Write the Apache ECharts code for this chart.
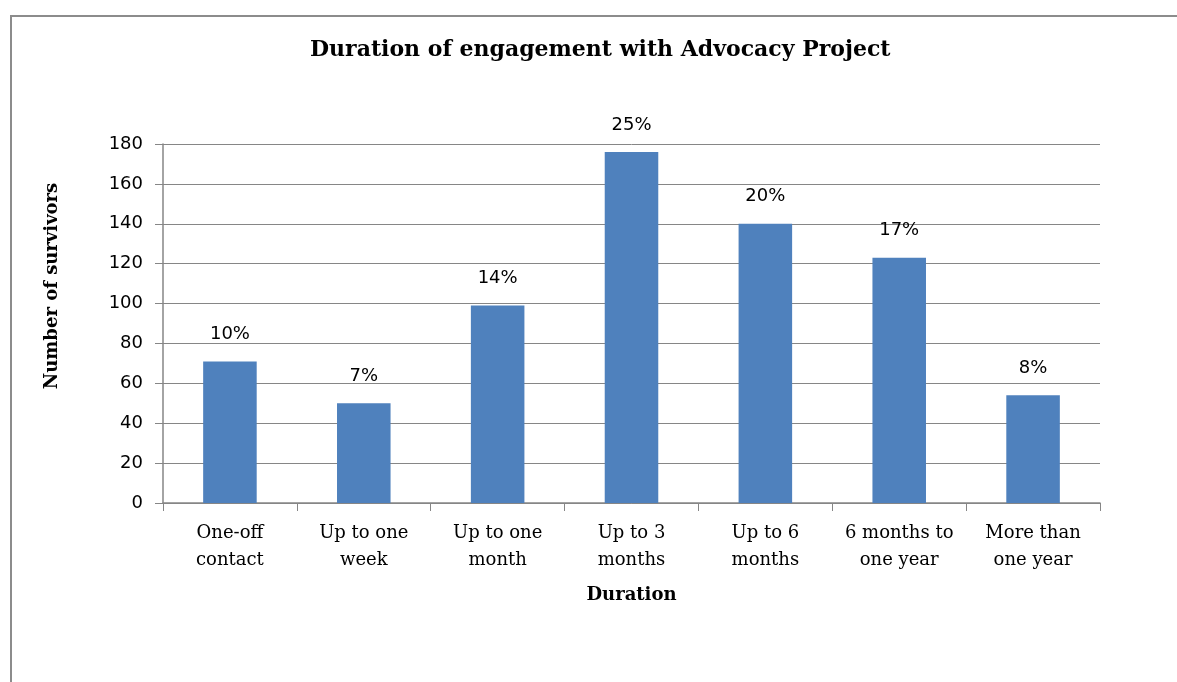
<!DOCTYPE html>
<html lang="en">
<head>
<meta charset="UTF-8">
<title>Duration of engagement</title>
<script src="https://cdn.jsdelivr.net/npm/echarts@6.0.0/dist/echarts.min.js"></script>
<style>
  body { margin: 0; padding: 0; background: #fff; }
  #chart { width: 1177px; height: 682px; }
</style>
</head>
<body>
<div id="chart"></div>
<script>
  var categories = ['One-off\ncontact', 'Up to one\nweek', 'Up to one\nmonth', 'Up to 3\nmonths',
    'Up to 6\nmonths', '6 months to\none year', 'More than\none year'];
  var survivors = [71, 50, 99, 176, 140, 123, 54];
  var shares = ['10%', '7%', '14%', '25%', '20%', '17%', '8%'];

  var serif = '"DejaVu Serif", "Liberation Serif", serif';
  var sans = '"DejaVu Sans", "Liberation Sans", sans-serif';

  var myChart = echarts.init(document.getElementById('chart'));
  var option = {
    animation: false,
    title: {
      text: 'Duration of engagement with Advocacy Project',
      left: 305,
      top: 34,
      textStyle: { fontFamily: serif, fontWeight: 'bold', fontSize: 22, color: '#000' }
    },
    graphic: [
      {
        type: 'rect',
        shape: { x: 11, y: 16, width: 1300, height: 800 },
        style: { fill: 'none', stroke: '#8c8c8c', lineWidth: 2 },
        silent: true
      },
      {
        type: 'text',
        x: 52, y: 286,
        rotation: Math.PI / 2,
        style: {
          text: 'Number of survivors',
          fontFamily: serif, fontWeight: 'bold', fontSize: 18, fill: '#000',
          align: 'center', verticalAlign: 'middle'
        }
      }
    ],
    grid: { left: 163, right: 77, top: 144, bottom: 179 },
    xAxis: {
      type: 'category',
      data: categories,
      name: 'Duration',
      nameLocation: 'middle',
      nameGap: 83,
      nameTextStyle: { fontFamily: serif, fontWeight: 'bold', fontSize: 18, color: '#000' },
      axisLine: { lineStyle: { color: '#868686', width: 1.5 } },
      axisTick: { show: true, length: 8, alignWithLabel: false, lineStyle: { color: '#868686' } },
      axisLabel: {
        interval: 0, margin: 17, color: '#000',
        fontFamily: serif, fontSize: 18, lineHeight: 27
      }
    },
    yAxis: {
      type: 'value',
      min: 0, max: 180, interval: 20,
      axisLine: { show: true, lineStyle: { color: '#868686', width: 1.5 } },
      axisTick: { show: true, length: 8, lineStyle: { color: '#868686' } },
      splitLine: { lineStyle: { color: '#868686', width: 1 } },
      axisLabel: { margin: 20, color: '#000', fontFamily: sans, fontSize: 18 }
    },
    series: [
      {
        type: 'bar',
        data: survivors,
        barWidth: '40%',
        itemStyle: { color: '#4F81BD' },
        label: {
          show: true,
          position: 'top',
          distance: 18,
          color: '#000',
          fontFamily: sans,
          fontSize: 18,
          formatter: function (p) { return shares[p.dataIndex]; }
        }
      }
    ]
  };
  myChart.setOption(option);
</script>
</body>
</html>
